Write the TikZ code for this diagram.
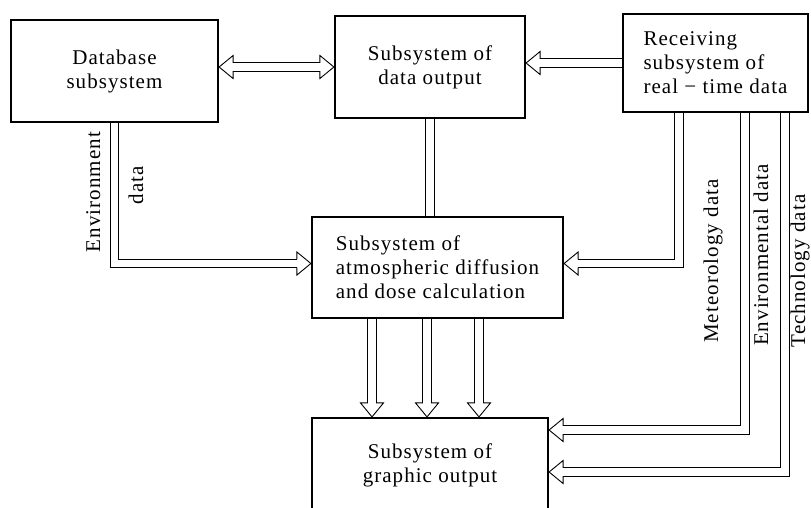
\documentclass[tikz,border=0pt]{standalone}
\usepackage{fontspec}
\newfontfamily\figfont[LetterSpace=5]{Liberation Serif}
\usetikzlibrary{arrows.meta, positioning, calc}

% open head for the double-line connectors
\pgfdeclarearrow{
  name = OpenHead,
  parameters = {\the\pgfarrowlength,\the\pgfarrowwidth},
  defaults = {length = 14pt, width = 23pt},
  setup code = {
    \pgfarrowssettipend{0pt}
    \pgfarrowssetlineend{-\pgfarrowlength}
    \pgfarrowssetbackend{-\pgfarrowlength}
    \pgfarrowssetvisualbackend{-\pgfarrowlength}
    \pgfarrowshullpoint{0pt}{0pt}
    \pgfarrowsupperhullpoint{-\pgfarrowlength}{.5\pgfarrowwidth}
    \pgfarrowssavethe\pgfarrowlength
    \pgfarrowssavethe\pgfarrowwidth
  },
  drawing code = {
    \pgfsetdash{}{0pt}
    \pgfsetmiterjoin
    \pgfsetlinewidth{0.9pt}
    \pgfsetstrokecolor{black}
    \pgfpathmoveto{\pgfqpoint{-\pgfarrowlength}{4.2pt}}
    \pgfpathlineto{\pgfqpoint{-\pgfarrowlength}{.5\pgfarrowwidth}}
    \pgfpathlineto{\pgfqpoint{0pt}{0pt}}
    \pgfpathlineto{\pgfqpoint{-\pgfarrowlength}{-.5\pgfarrowwidth}}
    \pgfpathlineto{\pgfqpoint{-\pgfarrowlength}{-4.2pt}}
    \pgfusepathqstroke
  }
}

\tikzset{
  sysbox/.style={draw, line width=2.2pt, inner sep=0pt,
    font=\figfont\fontsize{21}{24}\selectfont},
  flow/.style={double, double distance=7.5pt, line width=0.9pt},
  tag/.style={rotate=90, inner sep=0pt, anchor=base,
    font=\figfont\fontsize{21}{24}\selectfont},
}

\begin{document}
\begin{tikzpicture}[x=1pt, y=-1pt, >={OpenHead}]
\useasboundingbox (0,0) rectangle (811,507);

% boxes
\node[sysbox, minimum width=207pt, minimum height=102pt, align=center] (db) at (114.5,71) {Database\\subsystem};
\node[sysbox, minimum width=190pt, minimum height=102pt, align=center] (out) at (430,67) {Subsystem of\\data output};
\node[sysbox, minimum width=185pt, minimum height=98pt, align=left] (rec) at (715.5,63) {Receiving\\subsystem of\\real − time data};
\node[sysbox, minimum width=251pt, minimum height=101pt, align=left] (atm) at (437.5,267.5) {Subsystem of\\atmospheric diffusion\\and dose calculation};
\node[sysbox, minimum width=236pt, minimum height=94pt, align=center] (gfx) at (430,465) {Subsystem of\\graphic output};

% top row
\draw[flow,<->] (db.east |- out.west) -- (out.west);
\draw[flow,->] (rec.west) -- (rec.west -| out.east);
\draw[flow] (out.south) -- (out.south |- atm.north);

% into the calculation
\draw[flow,->] (db.south) |- ([yshift=4pt]atm.west);
\coordinate (rcalc) at ([xshift=-36.5pt]rec.south);
\draw[flow,->] (rcalc) |- ([yshift=4pt]atm.east);

% results to graphics
\foreach \dx [count=\i] in {-65.5,-10.5,41.5} {
  \coordinate (res\i) at ([xshift=\dx pt]atm.south);
  \draw[flow,->] (res\i) -- (res\i |- gfx.north);
}

% real-time data to graphics
\coordinate (rmet) at ([xshift=29.5pt]rec.south);
\coordinate (renv) at ([xshift=69.5pt]rec.south);
\draw[flow,->] (rmet) |- ([yshift=35pt]gfx.east);
\draw[flow,->] (renv) |- ([yshift=-7pt]gfx.east);

% labels
\node[tag] (lenv) at (100,192) {Environment};
\node[tag] (ldata) at (143,185) {data};
\node[tag] (lmet) at (718,261) {Meteorology data};
\node[tag] (lenvd) at (768,255) {Environmental data};
\node[tag] (ltech) at (805,271) {Technology data};
\end{tikzpicture}
\end{document}
